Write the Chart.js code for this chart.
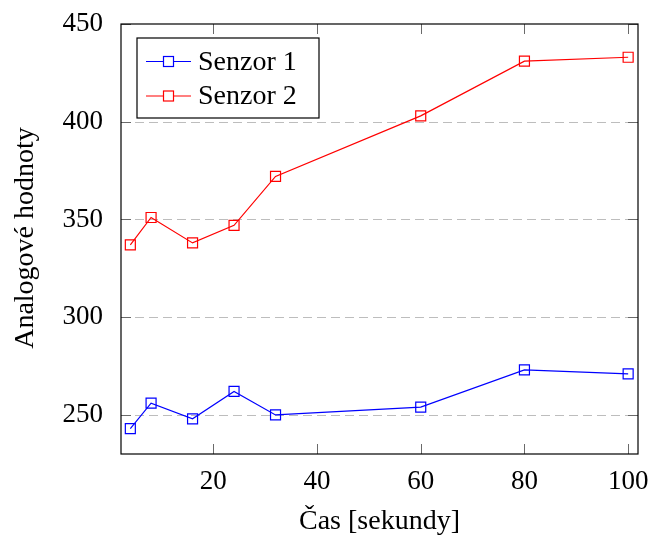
<!DOCTYPE html>
<html>
<head>
<meta charset="utf-8">
<script src="https://cdn.jsdelivr.net/npm/chart.js@4.4.0/dist/chart.umd.min.js"></script>
<style>
  html, body { margin: 0; padding: 0; background: #fff; }
</style>
</head>
<body>
<canvas id="graf" width="648" height="536"></canvas>
<script>
// data
const casy = [4, 8, 16, 24, 32, 60, 80, 100];
const senzor1 = [243, 256, 248, 262, 250, 254, 273, 271];
const senzor2 = [337, 351, 338, 347, 372, 403, 431, 433];
const xTicks = [20, 40, 60, 80, 100];
const yTicks = [250, 300, 350, 400, 450];

const FONT = "Liberation Serif";

// frame, inner ticks, dashed grid, axis titles, legend box
const ramecek = {
  id: "ramecek",
  beforeDatasetsDraw(chart) {
    const { ctx, chartArea: a, scales: { x, y } } = chart;
    ctx.save();
    // dashed horizontal grid
    ctx.strokeStyle = "#bdbdbd";
    ctx.lineWidth = 1;
    ctx.setLineDash([9, 5]);
    yTicks.forEach((v) => {
      if (v >= y.max) return;
      const py = Math.round(y.getPixelForValue(v)) + 0.5;
      ctx.beginPath();
      ctx.moveTo(a.left, py);
      ctx.lineTo(a.right, py);
      ctx.stroke();
    });
    ctx.setLineDash([]);
    // inner ticks
    ctx.strokeStyle = "#6a6a6a";
    xTicks.forEach((v) => {
      const px = Math.round(x.getPixelForValue(v)) + 0.5;
      ctx.beginPath();
      ctx.moveTo(px, a.bottom);
      ctx.lineTo(px, a.bottom - 10);
      ctx.moveTo(px, a.top);
      ctx.lineTo(px, a.top + 10);
      ctx.stroke();
    });
    yTicks.forEach((v) => {
      const py = Math.round(y.getPixelForValue(v)) + 0.5;
      ctx.beginPath();
      ctx.moveTo(a.left, py);
      ctx.lineTo(a.left + 10, py);
      ctx.moveTo(a.right, py);
      ctx.lineTo(a.right - 10, py);
      ctx.stroke();
    });
    ctx.restore();
  },
  afterDatasetsDraw(chart) {
    const { ctx, chartArea: a } = chart;
    ctx.save();
    // frame
    ctx.strokeStyle = "#000";
    ctx.lineWidth = 1.2;
    ctx.strokeRect(a.left, a.top, a.right - a.left, a.bottom - a.top);

    // axis titles
    ctx.fillStyle = "#000";
    ctx.font = "28px '" + FONT + "'";
    ctx.textAlign = "center";
    ctx.textBaseline = "middle";
    ctx.fillText("Čas [sekundy]", (a.left + a.right) / 2, 522);
    ctx.translate(26, 238);
    ctx.rotate(-Math.PI / 2);
    ctx.fillText("Analogové hodnoty", 0, 0);
    ctx.restore();

    // legend
    ctx.save();
    const lx = a.left + 16, ly = a.top + 14, lw = 182, lh = 80;
    ctx.fillStyle = "#fff";
    ctx.fillRect(lx, ly, lw, lh);
    ctx.strokeStyle = "#000";
    ctx.lineWidth = 1.2;
    ctx.strokeRect(lx, ly, lw, lh);
    chart.data.datasets.forEach((ds, i) => {
      const ry = ly + 23.5 + i * 34.5;
      ctx.strokeStyle = ds.borderColor;
      ctx.lineWidth = 1.2;
      ctx.beginPath();
      ctx.moveTo(lx + 9, ry);
      ctx.lineTo(lx + 54, ry);
      ctx.stroke();
      ctx.fillStyle = "#fff";
      ctx.fillRect(lx + 26.5, ry - 5, 10, 10);
      ctx.strokeRect(lx + 26.5, ry - 5, 10, 10);
      ctx.fillStyle = "#000";
      ctx.font = "28px '" + FONT + "'";
      ctx.textAlign = "left";
      ctx.textBaseline = "middle";
      ctx.fillText(ds.label, lx + 61, ry + 1);
    });
    ctx.restore();
  }
};

const body = (xs, ys) => xs.map((v, i) => ({ x: v, y: ys[i] }));

new Chart(document.getElementById("graf"), {
  type: "line",
  data: {
    datasets: [
      {
        label: "Senzor 1",
        data: body(casy, senzor1),
        borderColor: "#0000ff",
        backgroundColor: "rgba(0,0,0,0)",
        borderWidth: 1.2,
        pointStyle: "rect",
        pointRadius: 7.07,
        pointBorderWidth: 1.2,
        pointBackgroundColor: "rgba(0,0,0,0)",
        tension: 0,
        fill: false
      },
      {
        label: "Senzor 2",
        data: body(casy, senzor2),
        borderColor: "#ff0000",
        backgroundColor: "rgba(0,0,0,0)",
        borderWidth: 1.2,
        pointStyle: "rect",
        pointRadius: 7.07,
        pointBorderWidth: 1.2,
        pointBackgroundColor: "rgba(0,0,0,0)",
        tension: 0,
        fill: false
      }
    ]
  },
  options: {
    responsive: false,
    animation: false,
    devicePixelRatio: 1,
    layout: { padding: { top: 24, right: 10, left: 0, bottom: 0 } },
    plugins: { legend: { display: false }, tooltip: { enabled: false } },
    scales: {
      x: {
        type: "linear",
        min: 2.2,
        max: 101.9,
        afterBuildTicks: (s) => { s.ticks = xTicks.map((v) => ({ value: v })); },
        afterFit: (s) => { s.height = 82; s.paddingLeft = 0; s.paddingRight = 0; },
        grid: { display: false },
        border: { display: false },
        ticks: { color: "#000", padding: 4, maxRotation: 0, font: { family: FONT, size: 27 } }
      },
      y: {
        min: 230,
        max: 450,
        afterBuildTicks: (s) => { s.ticks = yTicks.map((v) => ({ value: v })); },
        afterFit: (s) => { s.width = 121; s.paddingTop = 0; s.paddingBottom = 0; },
        grid: { display: false },
        border: { display: false },
        ticks: { color: "#000", padding: 10, font: { family: FONT, size: 27 } }
      }
    }
  },
  plugins: [ramecek]
});
</script>
</body>
</html>
